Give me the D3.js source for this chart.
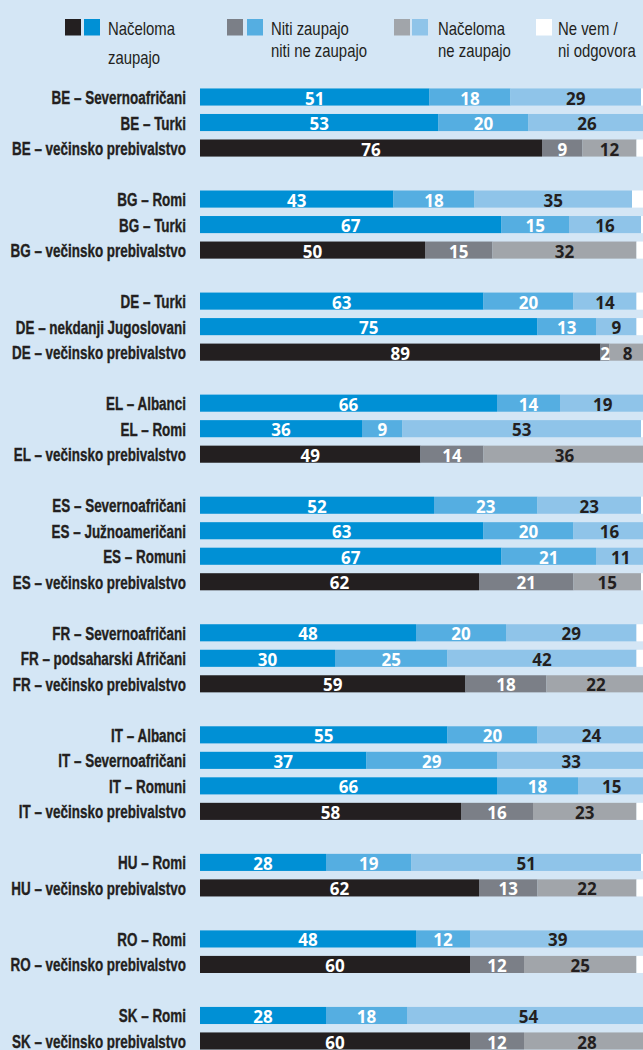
<!DOCTYPE html>
<html><head><meta charset="utf-8">
<script src="https://cdn.jsdelivr.net/npm/d3@7"></script>
<style>
html,body{margin:0;padding:0;background:#d4e6f5;}
svg{display:block;}
</style></head>
<body>
<svg id="c" width="643" height="1050"></svg>
<script>
// Row labels (null = gap between country groups)
const categories = [
 "BE – Severnoafričani","BE – Turki","BE – večinsko prebivalstvo",null,
 "BG – Romi","BG – Turki","BG – večinsko prebivalstvo",null,
 "DE – Turki","DE – nekdanji Jugoslovani","DE – večinsko prebivalstvo",null,
 "EL – Albanci","EL – Romi","EL – večinsko prebivalstvo",null,
 "ES – Severnoafričani","ES – Južnoameričani","ES – Romuni","ES – večinsko prebivalstvo",null,
 "FR – Severnoafričani","FR – podsaharski Afričani","FR – večinsko prebivalstvo",null,
 "IT – Albanci","IT – Severnoafričani","IT – Romuni","IT – večinsko prebivalstvo",null,
 "HU – Romi","HU – večinsko prebivalstvo",null,
 "RO – Romi","RO – večinsko prebivalstvo",null,
 "SK – Romi","SK – večinsko prebivalstvo"
];
// Načeloma zaupajo
const trust = [51,53,76,null, 43,67,50,null, 63,75,89,null, 66,36,49,null, 52,63,67,62,null, 48,30,59,null, 55,37,66,58,null, 28,62,null, 48,60,null, 28,60];
// Niti zaupajo niti ne zaupajo
const neutral = [18,20,9,null, 18,15,15,null, 20,13,2,null, 14,9,14,null, 23,20,21,21,null, 20,25,18,null, 20,29,18,16,null, 19,13,null, 12,12,null, 18,12];
// Načeloma ne zaupajo
const distrust = [29,26,12,null, 35,16,32,null, 14,9,8,null, 19,53,36,null, 23,16,11,15,null, 29,42,22,null, 24,33,15,23,null, 51,22,null, 39,25,null, 54,28];

const legendLabels = [["Načeloma","zaupajo"],["Niti zaupajo","niti ne zaupajo"],["Načeloma","ne zaupajo"],["Ne vem /","ni odgovora"]];

const minorityColors = ["#0090d5","#55aee1","#8fc4e9","#ffffff"];
const majorityColors = ["#231f20","#7b7f87","#a1a5aa","#ffffff"];
const textColors = ["#ffffff","#ffffff","#231f20"];

const svg = d3.select("#c");
const x = d3.scaleLinear().domain([0,100]).range([200,650]);
const idx = d3.range(categories.length);
const y = d3.scaleBand().domain(idx).range([84.25,1053.75]).paddingInner(0.33).paddingOuter(0.165);

function condense(sel, factor){
  sel.each(function(){
    const w = this.getComputedTextLength();
    d3.select(this).attr("textLength", w*factor).attr("lengthAdjust","spacingAndGlyphs");
  });
}

const rows = idx.filter(i => categories[i] !== null).map(i => {
  const vals = [trust[i], neutral[i], distrust[i]];
  const rest = Math.max(0, 100 - d3.sum(vals));
  const isMaj = categories[i].includes("večinsko");
  let acc = 0;
  const segs = vals.concat([rest]).map((v,k) => {const s={k,v,x0:acc,x1:acc+v}; acc+=v; return s;});
  return {i, label:categories[i], segs, colors: isMaj ? majorityColors : minorityColors};
});

const g = svg.append("g");
const row = g.selectAll("g.row").data(rows).join("g").attr("class","row")
  .attr("transform", d => `translate(0,${y(d.i)})`);

row.selectAll("rect").data(d => d.segs.map(s => ({...s, c:d.colors[s.k]}))).join("rect")
  .attr("x", s => x(s.x0)).attr("width", s => x(s.x1)-x(s.x0))
  .attr("y",0).attr("height", y.bandwidth()).attr("fill", s => s.c);

row.selectAll("text.val").data(d => d.segs.filter(s => s.k<3)).join("text").attr("class","val")
  .attr("x", s => (x(s.x0)+x(s.x1))/2).attr("y", y.bandwidth()/2+1)
  .attr("text-anchor","middle").attr("dominant-baseline","central")
  .attr("fill", s => textColors[s.k])
  .style("font-family","'Open Sans',sans-serif").style("font-weight","700").style("font-size","17px")
  .text(s => s.v);

const labs = row.append("text").attr("class","lab")
  .attr("x",186).attr("y", y.bandwidth()/2+1)
  .attr("text-anchor","end").attr("dominant-baseline","central")
  .attr("fill","#231f20").attr("stroke","#231f20").attr("stroke-width",0.35)
  .style("font-family","'Liberation Sans',sans-serif").style("font-weight","700").style("font-size","17.5px")
  .text(d => d.label);
// longest label "… večinsko prebivalstvo" spans about 174px in the reference
const refNode = labs.filter(d => d.label === "BE – večinsko prebivalstvo").node();
condense(labs, 174 / refNode.getComputedTextLength());

// Legend
const leg = [
  {sq:[[65,majorityColors[0]],[84,minorityColors[0]]], tx:108, l2:64},
  {sq:[[227,majorityColors[1]],[247,minorityColors[1]]], tx:271, l2:57},
  {sq:[[394,majorityColors[2]],[412,minorityColors[2]]], tx:438, l2:57},
  {sq:[[536,majorityColors[3]]], tx:558, l2:57}
];
const lg = svg.append("g");
const legTexts = [];
leg.forEach((L,j) => {
  L.sq.forEach(([sx,c]) => lg.append("rect").attr("x",sx).attr("y",19).attr("width",16).attr("height",16.5).attr("fill",c));
  const t = lg.append("text").attr("fill","#231f20")
    .style("font-family","'Liberation Sans',sans-serif").style("font-size","18.5px");
  legTexts.push(t.append("tspan").attr("x",L.tx).attr("y",35).text(legendLabels[j][0]).node());
  legTexts.push(t.append("tspan").attr("x",L.tx).attr("y",L.l2).text(legendLabels[j][1]).node());
});
// "niti ne zaupajo" spans about 96px in the reference
const legFactor = 96 / legTexts[3].getComputedTextLength();
condense(d3.selectAll(legTexts), legFactor);
</script>
</body></html>
